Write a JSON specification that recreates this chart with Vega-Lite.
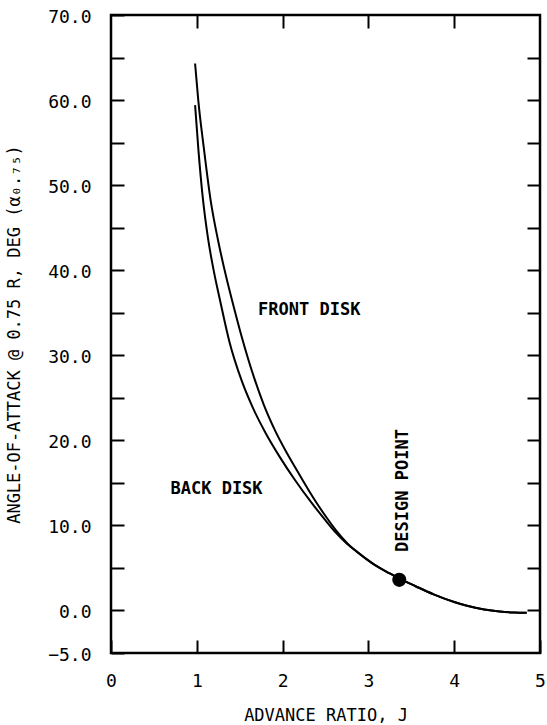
{
  "$schema": "https://vega.github.io/schema/vega-lite/v6.json",
  "autosize": "none",
  "width": 429,
  "height": 638,
  "padding": {"left": 111, "top": 15, "right": 7, "bottom": 72},
  "background": "white",
  "config": {
    "view": {"stroke": "black", "strokeWidth": 2.5},
    "font": "DejaVu Sans Mono"
  },
  "datasets": {
    "curves": [
      {"series": "front", "J": 0.98, "alpha": 64.3},
      {"series": "front", "J": 1.017, "alpha": 60.0},
      {"series": "front", "J": 1.084, "alpha": 54.2},
      {"series": "front", "J": 1.16, "alpha": 48.3},
      {"series": "front", "J": 1.25, "alpha": 43.4},
      {"series": "front", "J": 1.35, "alpha": 38.9},
      {"series": "front", "J": 1.41, "alpha": 36.5},
      {"series": "front", "J": 1.52, "alpha": 32.3},
      {"series": "front", "J": 1.66, "alpha": 27.6},
      {"series": "front", "J": 1.78, "alpha": 24.2},
      {"series": "front", "J": 1.91, "alpha": 21.2},
      {"series": "front", "J": 2.05, "alpha": 18.5},
      {"series": "front", "J": 2.2, "alpha": 15.9},
      {"series": "front", "J": 2.38, "alpha": 12.9},
      {"series": "front", "J": 2.5, "alpha": 11.1},
      {"series": "front", "J": 2.62, "alpha": 9.45},
      {"series": "front", "J": 2.75, "alpha": 7.95},
      {"series": "front", "J": 2.86, "alpha": 6.95},
      {"series": "front", "J": 3.06, "alpha": 5.45},
      {"series": "front", "J": 3.25, "alpha": 4.35},
      {"series": "front", "J": 3.36, "alpha": 3.75},
      {"series": "front", "J": 3.55, "alpha": 2.85},
      {"series": "front", "J": 3.76, "alpha": 1.9},
      {"series": "front", "J": 4.0, "alpha": 1.0},
      {"series": "front", "J": 4.15, "alpha": 0.55},
      {"series": "front", "J": 4.35, "alpha": 0.12},
      {"series": "front", "J": 4.53, "alpha": -0.12},
      {"series": "front", "J": 4.7, "alpha": -0.24},
      {"series": "front", "J": 4.845, "alpha": -0.27},
      {"series": "back", "J": 0.98, "alpha": 59.4},
      {"series": "back", "J": 1.02, "alpha": 54.0},
      {"series": "back", "J": 1.07, "alpha": 48.5},
      {"series": "back", "J": 1.13, "alpha": 43.8},
      {"series": "back", "J": 1.2, "alpha": 39.8},
      {"series": "back", "J": 1.27, "alpha": 36.5},
      {"series": "back", "J": 1.38, "alpha": 31.6},
      {"series": "back", "J": 1.52, "alpha": 27.1},
      {"series": "back", "J": 1.65, "alpha": 23.9},
      {"series": "back", "J": 1.8, "alpha": 20.9},
      {"series": "back", "J": 1.97, "alpha": 18.0},
      {"series": "back", "J": 2.14, "alpha": 15.4},
      {"series": "back", "J": 2.35, "alpha": 12.5},
      {"series": "back", "J": 2.5, "alpha": 10.6},
      {"series": "back", "J": 2.62, "alpha": 9.15},
      {"series": "back", "J": 2.75, "alpha": 7.85},
      {"series": "back", "J": 2.86, "alpha": 6.95},
      {"series": "back", "J": 3.06, "alpha": 5.45},
      {"series": "back", "J": 3.25, "alpha": 4.35},
      {"series": "back", "J": 3.36, "alpha": 3.75},
      {"series": "back", "J": 3.55, "alpha": 2.85},
      {"series": "back", "J": 3.76, "alpha": 1.9},
      {"series": "back", "J": 4.0, "alpha": 1.0},
      {"series": "back", "J": 4.15, "alpha": 0.55},
      {"series": "back", "J": 4.35, "alpha": 0.12},
      {"series": "back", "J": 4.53, "alpha": -0.12},
      {"series": "back", "J": 4.7, "alpha": -0.24},
      {"series": "back", "J": 4.845, "alpha": -0.27}
    ],
    "design": [{"J": 3.36, "alpha": 3.6}],
    "labels": [
      {"J": 2.31, "alpha": 35.3, "text": "FRONT DISK"},
      {"J": 1.23, "alpha": 14.3, "text": "BACK DISK"}
    ],
    "vlabels": [{"J": 3.40, "alpha": 14.1, "text": "DESIGN POINT"}]
  },
  "layer": [
    {
      "data": {"name": "curves"},
      "mark": {"type": "line", "color": "black", "strokeWidth": 2, "interpolate": "monotone"},
      "encoding": {
        "x": {
          "field": "J", "type": "quantitative",
          "scale": {"domain": [0, 5], "nice": false, "zero": false},
          "axis": {
            "orient": "bottom", "values": [0, 1, 2, 3, 4, 5],
            "domain": false, "grid": false,
            "tickSize": -13, "tickWidth": 2, "tickColor": "black",
            "labelFontSize": 18, "labelColor": "black", "labelPadding": 32,
            "labelFlush": false, "labelOverlap": false,
            "title": "ADVANCE RATIO, J", "titleFontSize": 17, "titleFontWeight": "normal",
            "titleColor": "black", "titlePadding": 17
          }
        },
        "y": {
          "field": "alpha", "type": "quantitative",
          "scale": {"domain": [-5, 70], "nice": false, "zero": false},
          "axis": {
            "orient": "left", "values": [-5, 0, 5, 10, 15, 20, 25, 30, 35, 40, 45, 50, 55, 60, 65, 70],
            "labelExpr": "datum.value % 10 == 0 || datum.value == -5 ? format(datum.value, '.1f') : ''",
            "domain": false, "grid": false,
            "tickSize": -13, "tickWidth": 2, "tickColor": "black",
            "labelFontSize": 18, "labelColor": "black", "labelPadding": 33, "labelOffset": 2,
            "labelFlush": false, "labelOverlap": false,
            "title": "ANGLE-OF-ATTACK @ 0.75 R, DEG (α₀.₇₅)", "titleFontSize": 17, "titleFontWeight": "normal",
            "titleColor": "black", "titlePadding": 24
          }
        },
        "detail": {"field": "series"}
      }
    },
    {
      "data": {"name": "design"},
      "mark": {"type": "circle", "color": "black", "opacity": 1, "size": 200},
      "encoding": {
        "x": {
          "field": "J", "type": "quantitative",
          "scale": {"domain": [0, 5], "nice": false, "zero": false},
          "axis": {
            "orient": "top", "values": [1, 2, 3, 4], "labels": false, "title": null,
            "domain": false, "grid": false,
            "tickSize": -13, "tickWidth": 2, "tickColor": "black"
          }
        },
        "y": {
          "field": "alpha", "type": "quantitative",
          "scale": {"domain": [-5, 70], "nice": false, "zero": false},
          "axis": {
            "orient": "right", "values": [0, 5, 10, 15, 20, 25, 30, 35, 40, 45, 50, 55, 60, 65],
            "labels": false, "title": null,
            "domain": false, "grid": false,
            "tickSize": -13, "tickWidth": 2, "tickColor": "black"
          }
        }
      }
    },
    {
      "data": {"name": "labels"},
      "mark": {"type": "text", "font": "DejaVu Sans Mono", "fontWeight": "bold", "fontSize": 17, "color": "black", "align": "center", "baseline": "middle"},
      "encoding": {
        "x": {"field": "J", "type": "quantitative", "axis": null},
        "y": {"field": "alpha", "type": "quantitative", "axis": null},
        "text": {"field": "text"}
      }
    },
    {
      "data": {"name": "vlabels"},
      "mark": {"type": "text", "font": "DejaVu Sans Mono", "fontWeight": "bold", "fontSize": 17, "color": "black", "align": "center", "baseline": "middle", "angle": 270},
      "encoding": {
        "x": {"field": "J", "type": "quantitative", "axis": null},
        "y": {"field": "alpha", "type": "quantitative", "axis": null},
        "text": {"field": "text"}
      }
    }
  ],
  "resolve": {"axis": {"x": "independent", "y": "independent"}}
}
